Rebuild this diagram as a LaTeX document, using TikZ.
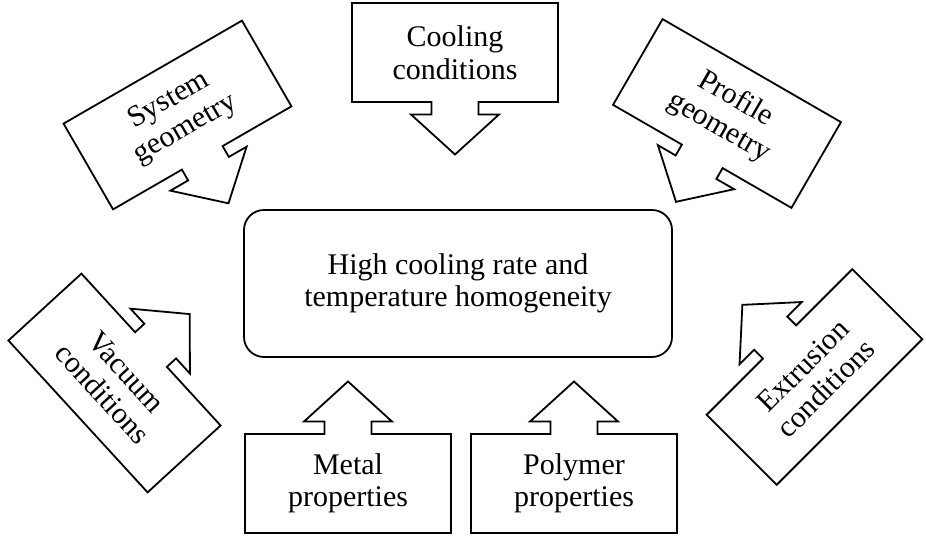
\documentclass[tikz,border=0pt]{standalone}
\usepackage{fontspec}
\setmainfont{Liberation Serif}
\begin{document}
\begin{tikzpicture}[x=1pt,y=1pt,
  outline/.style={line width=1.8pt, line join=miter, draw=black},
  txt/.style={font=\fontsize{30}{32.5}\selectfont, align=center, inner sep=0pt},
  callout/.pic={\draw[outline] (-103,49.5) -- (103,49.5) -- (103,-49.5) -- (23.5,-49.5) -- (23.5,-62) -- (44,-62) -- (0,-102) -- (-44,-62) -- (-23.5,-62) -- (-23.5,-49.5) -- (-103,-49.5) -- cycle;}]
\useasboundingbox (0,0) rectangle (926,540);
% central box
\node[outline, rounded corners=20pt, minimum width=428pt, minimum height=147pt, txt] (center) at (458,256.5) {High cooling rate and\\temperature homogeneity};
% top
\pic at (455,487.5) {callout};
\node[txt] (cool) at (455,487.5) {Cooling\\conditions};
% system geometry
\pic[rotate=30] at (177.5,425) {callout};
\node[txt, rotate=30] (sys) at (177.5,425) {System\\geometry};
% profile geometry
\pic[rotate=-30] at (727,426.5) {callout};
\node[txt, rotate=-30] (prof) at (727,426.5) {Profile\\geometry};
% vacuum
\pic[rotate=132.5] at (114.5,157) {callout};
\node[txt, rotate=-47.5] (vac) at (114.5,157) {Vacuum\\conditions};
% extrusion
\pic[rotate=225] at (814.5,163) {callout};
\node[txt, rotate=45] (ext) at (814.5,163) {Extrusion\\conditions};
% metal
\pic[rotate=180] at (348,56.5) {callout};
\node[txt] (metal) at (348,56.5) {Metal\\properties};
% polymer
\pic[rotate=180] at (574,56.5) {callout};
\node[txt] (poly) at (574,56.5) {Polymer\\properties};
\end{tikzpicture}
\end{document}
